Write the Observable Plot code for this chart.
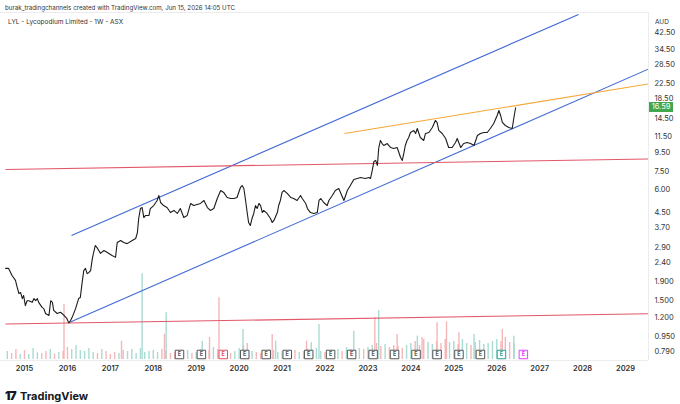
<!DOCTYPE html>
<html><head><meta charset="utf-8">
<script src="https://cdn.jsdelivr.net/npm/d3@7"></script>
<script src="https://cdn.jsdelivr.net/npm/@observablehq/plot@0.6"></script>
<style>
body{margin:0;background:#fff;font-family:Inter,Roboto,"Noto Sans",sans-serif;}
#wrap{position:relative;width:680px;height:404px;overflow:hidden;background:#fff;}
#wrap svg{position:absolute;left:0;top:0;}
.ov{position:absolute;white-space:nowrap;color:#222;}
</style></head><body><div id="wrap"></div>
<script>
// ---- weekly closes (decimal year, AUD) ----
const priceT = [
2014.56,2014.63,2014.71,2014.79,2014.83,2014.87,2014.91,2014.95,2014.98,2015.02,
2015.06,2015.10,2015.18,2015.22,2015.26,2015.30,2015.33,2015.41,2015.45,2015.49,
2015.57,2015.61,2015.65,2015.68,2015.76,2015.84,2015.92,2015.99,2016.03,2016.07,
2016.11,2016.19,2016.26,2016.30,2016.34,2016.38,2016.42,2016.46,2016.50,2016.54,
2016.58,2016.61,2016.65,2016.69,2016.73,2016.77,2016.85,2016.93,2017.04,2017.12,
2017.16,2017.24,2017.31,2017.39,2017.51,2017.59,2017.63,2017.66,2017.70,2017.74,
2017.78,2017.82,2017.90,2017.93,2018.01,2018.09,2018.13,2018.17,2018.24,2018.32,
2018.40,2018.48,2018.56,2018.63,2018.71,2018.79,2018.87,2018.94,2019.10,2019.18,
2019.26,2019.33,2019.41,2019.49,2019.57,2019.64,2019.72,2019.80,2019.88,2019.95,
2020.03,2020.07,2020.11,2020.15,2020.19,2020.22,2020.26,2020.30,2020.34,2020.38,
2020.42,2020.46,2020.50,2020.54,2020.57,2020.65,2020.73,2020.77,2020.81,2020.89,
2020.92,2020.96,2021.00,2021.04,2021.12,2021.20,2021.27,2021.35,2021.43,2021.47,
2021.55,2021.59,2021.66,2021.74,2021.82,2021.86,2021.90,2021.97,2022.05,2022.09,
2022.17,2022.24,2022.32,2022.36,2022.44,2022.52,2022.59,2022.67,2022.75,2022.83,
2022.94,2023.02,2023.06,2023.10,2023.14,2023.18,2023.22,2023.25,2023.29,2023.33,
2023.37,2023.45,2023.53,2023.60,2023.68,2023.72,2023.76,2023.80,2023.84,2023.87,
2023.91,2023.95,2023.99,2024.07,2024.11,2024.15,2024.18,2024.22,2024.30,2024.34,
2024.42,2024.50,2024.57,2024.61,2024.65,2024.73,2024.81,2024.88,2024.96,2025.04,
2025.08,2025.16,2025.23,2025.31,2025.39,2025.47,2025.55,2025.62,2025.70,2025.78,
2025.85,2025.93,2026.01,2026.05,2026.09,2026.13,2026.20,2026.28,2026.36,2026.40,
2026.44];
const priceC = [
2.23,2.23,2.04,1.92,1.76,1.63,1.65,1.53,1.59,1.40,
1.49,1.49,1.46,1.53,1.49,1.53,1.46,1.37,1.35,1.27,
1.24,1.49,1.46,1.32,1.27,1.29,1.24,1.19,1.13,1.16,
1.21,1.35,1.53,1.55,1.85,2.17,2.23,2.09,2.12,2.17,
2.52,2.72,2.97,2.89,2.79,2.69,2.79,2.72,2.62,2.56,
3.08,3.16,3.08,3.04,3.16,3.24,3.49,4.16,4.71,4.77,
4.21,4.32,4.32,4.71,4.89,5.21,5.54,5.08,4.89,4.77,
4.48,4.60,4.43,4.71,4.21,4.32,5.02,4.89,5.02,5.21,
4.77,4.60,4.71,5.34,5.90,5.76,5.41,5.34,5.34,5.41,
6.13,6.28,6.05,5.21,4.43,3.96,3.81,4.16,4.43,4.89,
4.71,5.02,4.89,4.48,4.60,4.43,4.16,3.96,4.06,4.48,
4.89,5.21,5.76,5.90,5.69,5.41,5.34,5.21,5.54,5.34,
5.02,4.71,4.48,4.43,4.48,5.21,5.34,5.08,4.89,5.21,
5.54,5.90,6.05,5.76,5.21,5.90,6.28,6.77,6.86,6.94,
6.86,6.94,6.86,7.58,8.48,8.59,8.07,9.97,11.02,10.61,
10.35,10.61,10.09,9.97,10.09,9.49,8.91,8.59,9.49,10.35,
11.02,11.44,12.18,12.49,12.03,12.80,12.18,11.44,11.02,12.03,
12.18,12.96,14.15,13.80,12.49,12.03,11.30,10.09,10.09,10.75,
11.30,10.09,10.61,10.75,10.61,10.35,11.73,12.03,12.18,12.18,
12.80,13.63,15.06,16.03,15.06,13.80,13.29,12.96,12.80,14.69,
16.59];
const lastPrice = 16.59;

// ---- drawn trend lines ----
const lineNames = ["channelTop","channelBottom","resistance","redUpper","redLower"];
const lineX1 = [2016.095, 2016.03, 2022.454, 2014.557, 2014.557];
const lineY1 = [3.364, 1.13, 12.03, 7.67, 1.113];
const lineX2 = [2027.905, 2029.535, 2029.535, 2029.535, 2029.535];
const lineY2 = [53.2, 26.9, 22.32, 8.75, 1.265];
const lineColor = ["#4169d6","#4169d6","#f5a83a","#e2586a","#e2586a"];

// ---- volume (thousand shares) ----
const volBgStart = 2014.6, volBgStep = 0.1;
const volBg = [
240,180,300,150,
270,150,330,200,180,240,300,160,210,250,
360,300,420,270,240,330,210,180,300,240,
150,210,180,270,240,300,180,330,210,240,
270,210,300,240,180,210,150,240,270,180,
210,300,240,270,360,300,240,210,180,240,
330,420,270,240,210,180,240,300,270,210,
240,210,180,270,210,240,300,210,330,240,
210,240,270,300,240,360,300,270,330,300,
360,420,480,390,450,360,420,390,330,420,
480,540,420,600,510,450,540,480,600,510,
540,450,600,480,420,510,570,450,480,540,
600,540,660,510,480];
const spikeT = [2015.92,2017.26,2017.74,2018.26,2018.30,2019.14,2019.31,2019.53,2020.09,2020.19,2020.77,2020.85,2021.57,2021.68,2021.86,2022.67,2023.16,2023.25,2023.68,2024.15,2024.26,2024.61,2024.83,2025.12,2025.47,2026.13,2026.40];
const spikeV = [1650,550,2570,750,1400,550,660,1850,900,480,750,550,550,500,1050,850,1250,1470,750,700,660,1100,1130,800,750,900,700];
const spikeDir = ["d","d","u","d","u","u","d","d","u","d","d","u","d","u","u","u","d","u","d","u","d","d","d","d","u","d","u"];

// ---- earnings markers ----
const earnT = [2018.61,2019.12,2019.63,2020.13,2020.63,2021.12,2021.62,2022.13,2022.62,2023.12,2023.62,2024.12,2024.61,2025.12,2025.62,2026.11,2026.62];
const earnKind = ["r","r","miss","r","r","r","r","r","r","r","r","r","r","r","r","beat","next"];

// ---- axes ----
const yTicks = [42.5,34.5,28.5,22.5,18.5,14.5,11.5,9.5,7.5,6,4.5,3.7,2.9,2.4,1.9,1.5,1.2,0.95,0.79];
const yLabels = ["42.50","34.50","28.50","22.50","18.50","14.50","11.50","9.50","7.50","6.00","4.50","3.70","2.90","2.40","1.900","1.500","1.200","0.950","0.790"];
const years = [2015,2016,2017,2018,2019,2020,2021,2022,2023,2024,2025,2026,2027,2028,2029];

const xDomain = [2014.441, 2029.535];
const yDomain = [0.706, 54.5];
const W = 680, H = 404;
const M = {marginLeft:0, marginRight:32, marginTop:12, marginBottom:44};

const priceData = priceT.map((t,i)=>({t, c:priceC[i]}));
const trend = lineNames.map((n,i)=>({x1:lineX1[i],y1:lineY1[i],x2:lineX2[i],y2:lineY2[i],col:lineColor[i]}));
const UP = "#9fd7cd", DN = "#f4aeb1";
const bis = d3.bisector(d=>d.t).left;
const volData = volBg.map((v,i)=>{
  const t = +(volBgStart + i*volBgStep).toFixed(2);
  let k = Math.max(1, Math.min(priceData.length-1, bis(priceData, t)));
  return {t, v, col: priceData[k].c >= priceData[k-1].c ? UP : DN};
}).concat(spikeT.map((t,i)=>({t, v:spikeV[i], col: spikeDir[i]==="u"?UP:DN})));
const earnColors = {r:"#555", miss:"#e2505c", beat:"#22a093", next:"#e040fb"};
const earnData = earnT.map((t,i)=>({t, col:earnColors[earnKind[i]]}));
const yTickData = yTicks.map((v,i)=>({v, label:yLabels[i]}));

const font = "Inter, Roboto, 'Noto Sans', sans-serif";

const vol = Plot.plot({
  width:W, height:H, ...M,
  style:{background:"transparent", fontFamily:font},
  x:{domain:xDomain, axis:null, label:null},
  y:{domain:[0,3000], range:[359,259], axis:null, label:null},
  color:{type:"identity"},
  marks:[
    Plot.ruleX(volData, {x:"t", y1:0, y2:"v", stroke:"col", strokeWidth:1.4, strokeOpacity:0.9})
  ]
});

const main = Plot.plot({
  width:W, height:H, ...M,
  style:{background:"transparent", fontFamily:font, fontSize:"7.5px", color:"#333"},
  x:{domain:xDomain, label:null, axis:null},
  y:{type:"log", domain:yDomain, label:null, axis:null},
  color:{type:"identity"},
  marks:[
    Plot.ruleY([yDomain[1]], {stroke:"#ececec"}),
    Plot.ruleY([yDomain[0]], {stroke:"#ececec"}),
    Plot.ruleX([xDomain[1]], {stroke:"#ececec"}),
    Plot.link(trend, {x1:"x1", y1:"y1", x2:"x2", y2:"y2", stroke:"col", strokeWidth:1.1, clip:true}),
    Plot.line(priceData, {x:"t", y:"c", stroke:"#1c1c1c", strokeWidth:1.1, clip:true}),
    Plot.dot(earnData, {x:"t", frameAnchor:"bottom", dy:-6, symbol:"square", r:4.8, fill:"white", stroke:"col", strokeWidth:1}),
    Plot.text(earnData, {x:"t", frameAnchor:"bottom", dy:-6, lineAnchor:"middle", text:d=>"E", fill:"col", fontSize:5.5, fontWeight:700})
  ]
});

// axis labels on their own top layer (same scales)
const axes = Plot.plot({
  width:W, height:H, ...M,
  style:{background:"transparent", fontFamily:font, fontSize:"7.5px", color:"#333"},
  x:{domain:xDomain, label:null, axis:null},
  y:{type:"log", domain:yDomain, label:null, axis:null},
  marks:[
    Plot.text(yTickData, {y:"v", text:"label", frameAnchor:"right", textAnchor:"start", dx:6, fill:"#333", fontSize:7.5}),
    Plot.text(years, {x:d=>d, text:d=>String(d), frameAnchor:"bottom", lineAnchor:"top", dy:5, fill:"#333", fontSize:7.5, fontWeight:600})
  ]
});

const wrap = document.getElementById("wrap");
function ov(html, css){ const d=document.createElement("div"); d.className="ov"; d.innerHTML=html; Object.assign(d.style, css); wrap.appendChild(d); return d; }
wrap.appendChild(vol);
wrap.appendChild(main);
const yLast = main.scale("y").apply(lastPrice);
ov(lastPrice.toFixed(2), {left:"649px", top:(yLast-5)+"px", height:"10px", lineHeight:"10px", width:"24px", textAlign:"center", fontSize:"7.5px", color:"#fff", background:"#3fa84f"});
ov("burak_tradingchannels created with TradingView.com, Jun 15, 2026 14:05 UTC", {left:"5px", top:"4px", fontSize:"6.2px", color:"#333"});
ov("LYL - Lycopodium Limited - 1W - ASX", {left:"8px", top:"18px", fontSize:"6.5px", color:"#333"});
ov("AUD", {left:"655px", top:"18px", fontSize:"6.5px", color:"#333"});
ov('<span style="font-weight:900;font-size:12px;letter-spacing:-1px;">17</span> <span style="font-weight:700;font-size:11px;">TradingView</span>', {left:"5px", top:"384px", color:"#131722"});
wrap.appendChild(axes);
</script>
</body></html>
